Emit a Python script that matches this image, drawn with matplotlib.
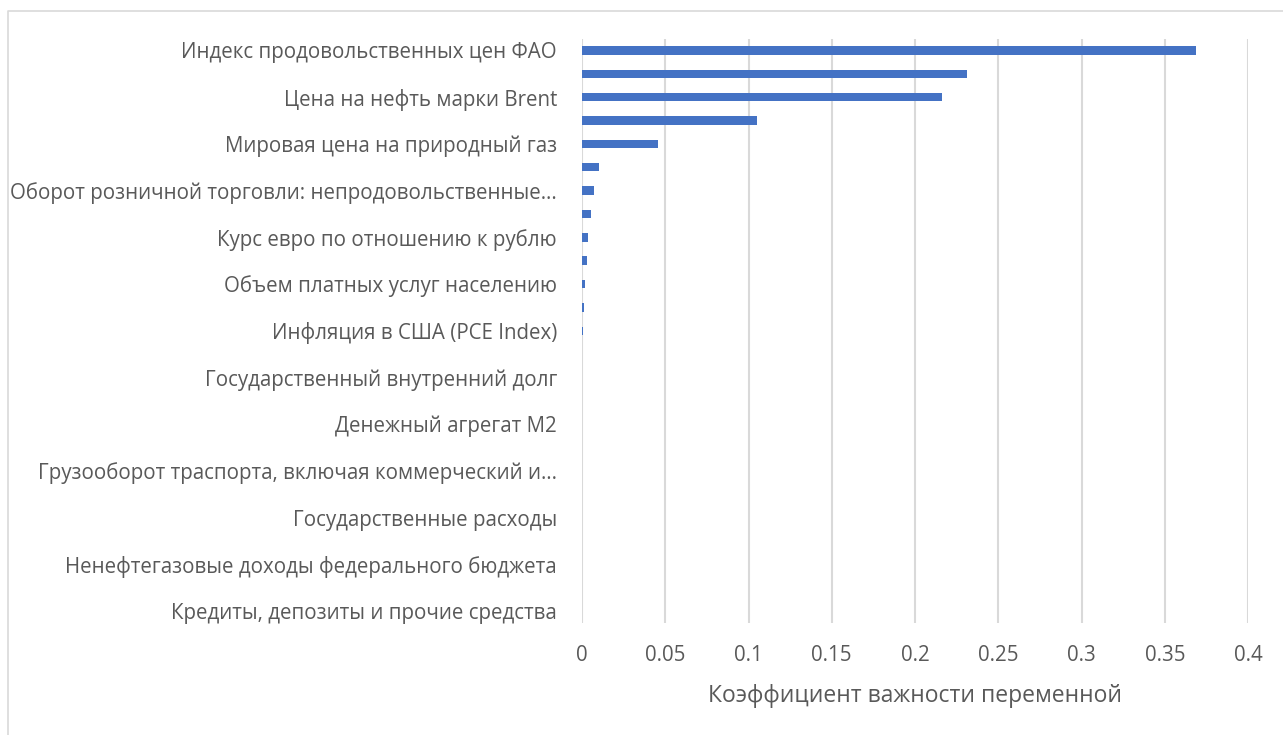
import matplotlib
matplotlib.use("Agg")
import matplotlib.pyplot as plt
from matplotlib.lines import Line2D

categories = [
    "Индекс продовольственных цен ФАО", "",
    "Цена на нефть марки Brent", "",
    "Мировая цена на природный газ", "",
    "Оборот розничной торговли: непродовольственные…", "",
    "Курс евро по отношению к рублю", "",
    "Объем платных услуг населению", "",
    "Инфляция в США (PCE Index)", "",
    "Государственный внутренний долг", "",
    "Денежный агрегат М2", "",
    "Грузооборот траспорта, включая коммерческий и…", "",
    "Государственные расходы", "",
    "Ненефтегазовые доходы федерального бюджета", "",
    "Кредиты, депозиты и прочие средства",
]
values = [0.369, 0.2315, 0.216, 0.1053, 0.0455, 0.0104, 0.0070, 0.0054,
          0.0034, 0.0030, 0.0016, 0.0012, 0.0004, 0.0003, 0.0, 0.0,
          0.0, 0.0, 0.0, 0.0, 0.0, 0.0, 0.0, 0.0, 0.0]
xticks = [0, 0.05, 0.1, 0.15, 0.2, 0.25, 0.3, 0.35, 0.4]
xtick_labels = ["0", "0.05", "0.1", "0.15", "0.2", "0.25", "0.3", "0.35", "0.4"]
xlabel = "Коэффициент важности переменной"

plt.rcParams['font.family'] = ['Open Sans', 'DejaVu Sans']
W, H = 1283, 735
fig = plt.figure(figsize=(W / 100, H / 100), dpi=100)
ax = fig.add_axes([582 / W, 1 - 622.7 / H, (1248 - 582) / W, (622.7 - 38.8) / H])

pos = list(range(len(values)))
ax.barh(pos, values, height=0.36, color="#4472C4", zorder=3)
ax.set_ylim(len(values) - 0.5, -0.5)
ax.set_xlim(0, 0.4)
ax.set_xticks(xticks)
ax.set_xticklabels(xtick_labels)
ax.set_yticks(pos)
ax.set_yticklabels(categories)
ax.grid(axis="x", color="#d9d9d9", linewidth=1.5, zorder=0)
for s in ax.spines.values():
    s.set_visible(False)
ax.tick_params(axis="both", length=0, colors="#595959", labelsize=14.8)
ax.tick_params(axis="y", pad=18)
ax.tick_params(axis="x", pad=16)
ax.set_xlabel(xlabel, fontsize=16.5, color="#595959", labelpad=13)

fig.add_artist(Line2D([7.5 / W, 7.5 / W, 1.0], [0.0, 1 - 10.5 / H, 1 - 10.5 / H],
                      transform=fig.transFigure, color="#d9d9d9", linewidth=1.2))

fig.savefig("out.png", dpi=100)
